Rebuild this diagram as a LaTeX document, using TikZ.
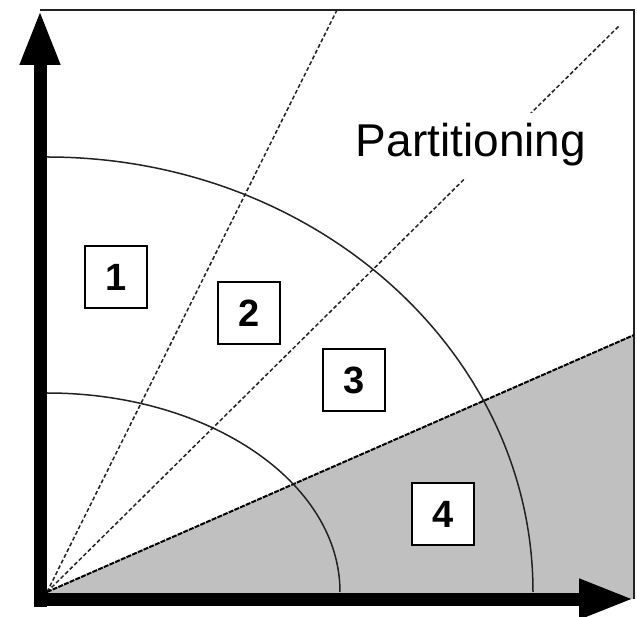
\documentclass[tikz,border=0pt]{standalone}
\usepackage{fontspec}
\setmainfont{Liberation Sans}
\usetikzlibrary{arrows.meta}
\definecolor{sectorgrey}{HTML}{C0C0C0}
\definecolor{ink}{HTML}{222222}
\tikzset{
  axis/.style={draw=black, line width=6.5pt, -{Triangle[length=27.5pt,width=18.5pt]}},
  frame/.style={draw=ink, line width=1pt},
  ray/.style={draw=ink, line width=0.75pt, dash pattern=on 2pt off 1.2pt},
  cut/.style={draw=black, line width=1pt, dash pattern=on 2.5pt off 0.6pt},
  ring/.style={draw=ink, line width=0.75pt},
  numbox/.style={draw=black, fill=white, line width=1pt, minimum size=31pt, inner sep=0pt, font=\fontsize{19}{22}\selectfont\bfseries},
  lab/.style={fill=white, font=\fontsize{23}{27}\selectfont, inner xsep=2pt, inner ysep=5.5pt},
}

\begin{document}
\begin{tikzpicture}[x=0.5pt, y=0.5pt]
  \useasboundingbox (0,0) rectangle (637,616);
  \coordinate (O) at (47,24);
  \coordinate (cutend) at (634,281);
  % shaded sector
  \fill[sectorgrey] (O) -- (cutend) -- (634,17) -- (47,17) -- cycle;
  \draw[frame] (40,606) -- (634,606) -- (634,17);
  % rays and rings
  \draw[ray] (O) -- (337,606);
  \draw[ray] (O) -- (620,591);
  \draw[cut] (O) -- (cutend);
  \draw[ring] (47,459) arc[start angle=90, end angle=0, x radius=243pt, y radius=217.5pt];
  \draw[ring] (47,223) arc[start angle=90, end angle=0, x radius=146.5pt, y radius=99.5pt];
  \node[lab, anchor=base] (part) at (471,459) {Partitioning};
  \node[numbox] (r1) at (116,339) {1};
  \node[numbox] (r2) at (249,303) {2};
  \node[numbox] (r3) at (354,236) {3};
  \node[numbox] (r4) at (443,102) {4};
  \draw[axis] (40,9) -- (40,606);
  \draw[axis] (34,17) -- (634,17);
\end{tikzpicture}
\end{document}
